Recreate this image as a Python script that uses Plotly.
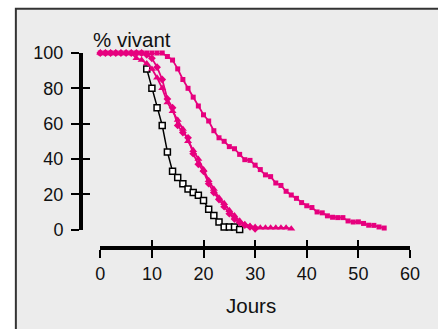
import plotly.graph_objects as go

# ---- data ----
days_ctrl = list(range(9, 28))
ctrl = [91, 80, 69, 59, 44, 33, 29.5, 26, 23, 21, 19.5, 16.5, 11.5, 8, 4.3,
        1.5, 1.5, 1.5, 0]

days_sq = list(range(0, 56))
sq = [100] * 13 + [98, 96, 91, 85, 80, 75, 70, 65, 61.5, 56, 52, 50, 47, 45.8, 42.6,
                   39.6, 39.2, 36.5, 34, 31, 30, 26.4, 25, 21.7, 19.6, 17.7, 15.3, 13.5,
                   12.5, 10, 9.5, 7.8, 7, 6.8, 6.8, 4.9, 4.3, 4.4, 3.5, 2.5, 2.4, 1.5, 0.9]

days_tri = list(range(0, 38))
tri = [100] * 7 + [97, 96, 94, 91, 86, 80, 72, 67, 62, 57, 50, 45, 40, 34, 28, 23, 18,
                   15, 11, 8, 5, 3, 2, 1.5, 1, 1, 1, 1, 1, 1, 0.5]

days_dot = list(range(0, 31))
dot = [100] * 9 + [99, 97, 92, 85, 74, 69, 59, 55, 52, 43, 37, 33, 26, 21, 17, 13, 9,
                   6, 4, 2.5, 1.5, 0.5]

x_ticks = [0, 10, 20, 30, 40, 50, 60]
y_ticks = [0, 20, 40, 60, 80, 100]

MAG = "#e6007e"
W, H = 438, 329
L, R, T, B = 80.7, 410.0, 52.5, 247.7   # plot area edges in px
PW, PH = R - L, B - T

def px(xp):
    return (xp - L) / PW

def py(yp):
    return (B - yp) / PH

fig = go.Figure()

fig.add_trace(go.Scatter(x=days_ctrl, y=ctrl, mode="lines+markers",
                         line=dict(color="black", width=1.5),
                         marker=dict(symbol="square", size=6, color="white",
                                     line=dict(color="black", width=1.5)),
                         cliponaxis=False, showlegend=False))
fig.add_trace(go.Scatter(x=days_dot, y=dot, mode="lines+markers",
                         line=dict(color=MAG, width=1.8),
                         marker=dict(symbol="diamond", size=6, color=MAG),
                         cliponaxis=False, showlegend=False))
fig.add_trace(go.Scatter(x=days_tri, y=tri, mode="lines+markers",
                         line=dict(color=MAG, width=1.8),
                         marker=dict(symbol="triangle-up", size=7, color=MAG),
                         cliponaxis=False, showlegend=False))
fig.add_trace(go.Scatter(x=days_sq, y=sq, mode="lines+markers",
                         line=dict(color=MAG, width=1.8),
                         marker=dict(symbol="square", size=5, color=MAG),
                         cliponaxis=False, showlegend=False))
# dummy trace for the overlay axes (inner half of the crossing ticks)
fig.add_trace(go.Scatter(x=[None], y=[None], xaxis="x2", yaxis="y2",
                         showlegend=False, hoverinfo="skip"))

xdom = [px(100), 1]
ydom = [py(229.3), 1]
font_tick = dict(family="Liberation Sans, Arial, sans-serif", size=18, color="#111")

fig.update_layout(
    width=W, height=H,
    margin=dict(l=L, r=W - R, t=T, b=H - B, pad=0),
    paper_bgcolor="white",
    plot_bgcolor="rgba(0,0,0,0)",
    showlegend=False,
    xaxis=dict(range=[0, 60], domain=xdom, anchor="free", position=0,
               tickvals=x_ticks, ticks="outside", ticklen=8, tickwidth=2,
               tickcolor="black", showline=True, linecolor="black", linewidth=4,
               showgrid=False, zeroline=False, tickfont=font_tick),
    yaxis=dict(range=[0, 100], domain=ydom, anchor="free", position=0,
               tickvals=y_ticks, ticks="outside", ticklen=8, tickwidth=2,
               tickcolor="black", showline=True, linecolor="black", linewidth=4,
               showgrid=False, zeroline=False, tickfont=font_tick,
               ticklabelstandoff=4),
    xaxis2=dict(range=[0, 60], domain=xdom, overlaying="x", anchor="free",
                position=0, tickvals=x_ticks, ticks="inside", ticklen=8,
                tickwidth=2, tickcolor="black", showticklabels=False,
                showline=False, showgrid=False, zeroline=False),
    yaxis2=dict(range=[0, 100], domain=ydom, overlaying="y", anchor="free",
                position=0, tickvals=y_ticks, ticks="inside", ticklen=8,
                tickwidth=2, tickcolor="black", showticklabels=False,
                showline=False, showgrid=False, zeroline=False),
    shapes=[dict(type="rect", xref="paper", yref="paper", layer="below",
                 x0=px(15.5), x1=px(445), y0=py(340), y1=py(8.3),
                 fillcolor="#ececec", line=dict(color="#333333", width=2))],
    annotations=[
        dict(text="% vivant", xref="paper", yref="paper", x=px(91), y=py(38.5),
             xanchor="left", yanchor="middle", showarrow=False,
             font=dict(family="Liberation Sans, Arial, sans-serif", size=20.5, color="#111")),
        dict(text="Jours", xref="paper", yref="paper", x=px(250.5), y=py(305),
             xanchor="center", yanchor="middle", showarrow=False,
             font=dict(family="Liberation Sans, Arial, sans-serif", size=20.5, color="#111")),
    ],
)

fig.write_html("out.html", config={"displayModeBar": False},
               post_script="document.body.style.margin='0px';document.body.style.overflow='hidden';")
